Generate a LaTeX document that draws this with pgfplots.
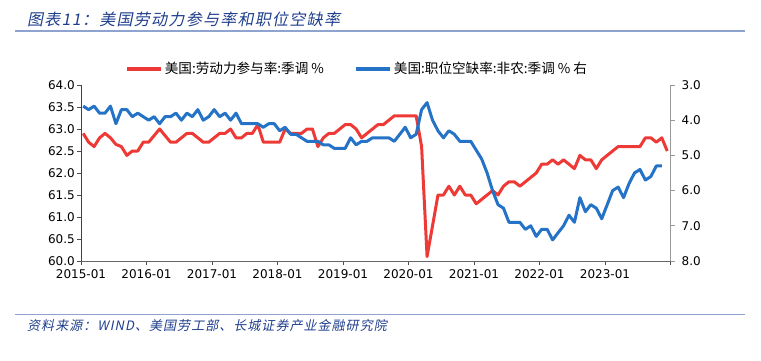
\documentclass[border=0pt]{standalone}
\usepackage{pgfplots}
\pgfplotsset{compat=1.18}
\usepackage{pgfplotstable}
\usepackage{fontspec}
\setmainfont{DejaVu Sans}
\newfontfamily\cjk{Noto Sans CJK SC}
\newfontfamily\cjkit[FakeSlant=0.2,LetterSpace=8]{Noto Sans CJK SC}
\definecolor{myred}{HTML}{EE3A36}
\definecolor{myblue}{HTML}{2473C6}
\definecolor{titleblue}{HTML}{1F3E8C}
\definecolor{ruleblue}{HTML}{8EA4CE}

\pgfplotstableread{
m v
0 62.9
1 62.7
2 62.6
3 62.8
4 62.9
5 62.8
6 62.65
7 62.6
8 62.4
9 62.5
10 62.5
11 62.7
12 62.7
13 62.85
14 63.0
15 62.85
16 62.7
17 62.7
18 62.8
19 62.9
20 62.9
21 62.8
22 62.7
23 62.7
24 62.8
25 62.9
26 62.9
27 63.0
28 62.8
29 62.8
30 62.9
31 62.9
32 63.1
33 62.7
34 62.7
35 62.7
36 62.7
37 63.0
38 62.9
39 62.9
40 62.9
41 63.0
42 63.0
43 62.6
44 62.8
45 62.9
46 62.9
47 63.0
48 63.1
49 63.1
50 63.0
51 62.8
52 62.9
53 63.0
54 63.1
55 63.1
56 63.2
57 63.3
58 63.3
59 63.3
60 63.3
61 63.3
62 62.6
63 60.1
64 60.8
65 61.5
66 61.5
67 61.7
68 61.5
69 61.7
70 61.5
71 61.5
72 61.3
73 61.4
74 61.5
75 61.6
76 61.5
77 61.7
78 61.8
79 61.8
80 61.7
81 61.8
82 61.9
83 62.0
84 62.2
85 62.2
86 62.3
87 62.2
88 62.3
89 62.2
90 62.1
91 62.4
92 62.3
93 62.3
94 62.1
95 62.3
96 62.4
97 62.5
98 62.6
99 62.6
100 62.6
101 62.6
102 62.6
103 62.8
104 62.8
105 62.7
106 62.8
107 62.5
}\lfpr

\pgfplotstableread{
m v
0 3.6
1 3.7
2 3.6
3 3.8
4 3.8
5 3.6
6 4.1
7 3.7
8 3.7
9 3.9
10 3.8
11 3.9
12 4.0
13 3.9
14 4.1
15 3.9
16 3.9
17 3.8
18 4.0
19 3.8
20 3.9
21 3.7
22 4.0
23 3.9
24 3.7
25 3.9
26 3.8
27 4.0
28 3.8
29 4.1
30 4.1
31 4.1
32 4.1
33 4.2
34 4.1
35 4.1
36 4.3
37 4.2
38 4.4
39 4.4
40 4.5
41 4.6
42 4.6
43 4.6
44 4.7
45 4.7
46 4.8
47 4.8
48 4.8
49 4.5
50 4.7
51 4.6
52 4.6
53 4.5
54 4.5
55 4.5
56 4.5
57 4.6
58 4.4
59 4.2
60 4.5
61 4.4
62 3.7
63 3.5
64 4.0
65 4.3
66 4.5
67 4.3
68 4.4
69 4.6
70 4.6
71 4.6
72 4.85
73 5.1
74 5.5
75 6.0
76 6.4
77 6.5
78 6.9
79 6.9
80 6.9
81 7.1
82 7.0
83 7.3
84 7.1
85 7.1
86 7.4
87 7.2
88 7.0
89 6.7
90 6.9
91 6.2
92 6.6
93 6.4
94 6.5
95 6.8
96 6.4
97 6.0
98 5.9
99 6.2
100 5.8
101 5.5
102 5.4
103 5.7
104 5.6
105 5.3
106 5.3
}\jolts

\begin{document}
\begin{tikzpicture}[x=1bp,y=1bp]
\useasboundingbox (0,0) rectangle (761,360);
\node[anchor=base west, inner sep=0, text=titleblue, font=\cjkit\fontsize{16bp}{18bp}\selectfont] at (27,335) {图表11：美国劳动力参与率和职位空缺率};
\draw[ruleblue, line width=1.5bp] (15,329) -- (745,329);
\draw[ruleblue, line width=1bp] (15,46) -- (745,46);
\node[anchor=base west, inner sep=0, text=titleblue, font=\cjkit\fontsize{13bp}{15bp}\selectfont] at (27,30) {资料来源：WIND、美国劳工部、长城证券产业金融研究院};

\begin{axis}[
  at={(81bp,99bp)}, anchor=south west,
  scale only axis, width=589.5bp, height=176bp,
  xmin=0, xmax=108, ymin=60, ymax=64,
  axis x line*=bottom, axis y line*=left,
  x axis line style={draw=black!60},
  y axis line style={draw=black!75},
  xtick={0,12,...,108},
  xticklabels={2015-01,2016-01,2017-01,2018-01,2019-01,2020-01,2021-01,2022-01,2023-01,{}},
  ytick={60,60.5,...,64},
  tick align=outside, major tick length=4bp,
  tick style={draw=black!70, line width=0.8bp},
  ticklabel style={font=\fontsize{12bp}{14bp}\selectfont},
  xticklabel style={inner sep=2bp, yshift=-2bp},
  yticklabel style={inner sep=2bp, /pgf/number format/.cd, fixed, fixed zerofill, precision=1},
  /pgf/number format/assume math mode=true,
  legend columns=2,
  legend style={draw=none, fill=none, at={(axis description cs:0.074,1.091)}, anchor=west,
    font=\cjk\fontsize{13.6bp}{15bp}\selectfont, inner xsep=0, inner ysep=0,
    /tikz/every even column/.append style={column sep=28bp}},
  legend image code/.code={\draw[#1, line width=4bp] (0bp,0bp) -- (34bp,0bp);},
  legend cell align=left,
]
\addplot[myred, line width=3bp, line join=round] table[x expr=\thisrow{m}+0.4, y=v] {\lfpr};
\addlegendentry{美国:劳动力参与率:季调 \%}
\addlegendimage{myblue, line width=3bp}
\addlegendentry{美国:职位空缺率:非农:季调 \% 右}
\end{axis}

\begin{axis}[
  at={(81bp,99bp)}, anchor=south west,
  scale only axis, width=589.5bp, height=176bp,
  xmin=0, xmax=108, ymin=3, ymax=8, y dir=reverse,
  axis x line=none, axis y line*=right,
  y axis line style={draw=black!40, line width=1.2bp},
  ytick={3,4,...,8},
  tick align=outside, major tick length=4bp,
  tick style={draw=black!40, line width=1bp},
  ticklabel style={font=\fontsize{12bp}{14bp}\selectfont},
  yticklabel style={inner sep=2bp, xshift=5bp, /pgf/number format/.cd, fixed, fixed zerofill, precision=1},
  /pgf/number format/assume math mode=true,
]
\addplot[myblue, line width=3bp, line join=round] table[x expr=\thisrow{m}+0.4, y=v] {\jolts};
\end{axis}
\end{tikzpicture}
\end{document}
